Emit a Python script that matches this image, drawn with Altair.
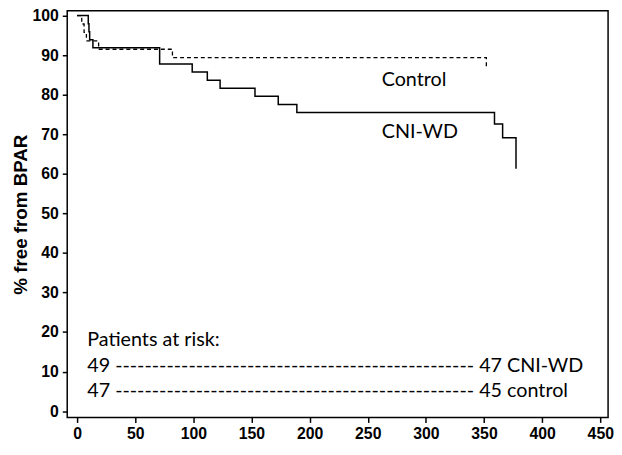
import altair as alt
import pandas as pd

# Kaplan-Meier style curves
cni_time = [0, 9.6, 10.2, 10.8, 13.6, 71, 99, 112, 123, 153, 173, 189, 359, 366, 377.5]
cni_surv = [100, 97.96, 95.92, 93.88, 91.84, 87.76, 85.71, 83.67, 81.63, 79.59, 77.55, 75.51, 72.6, 69.1, 61.3]
ctl_time = [0, 4, 6, 8, 18.5, 82, 352]
ctl_surv = [100, 97.87, 95.74, 93.62, 91.49, 89.36, 87.2]

# annotations
ann_text = ["Control", "CNI-WD", "Patients at risk:",
            "49 " + "-" * 49 + " 47 CNI-WD",
            "47 " + "-" * 49 + " 45 control"]
ann_x = [262, 262, 8.7, 8.7, 8.7]
ann_y = [82.3, 69.1, 16.5, 10.0, 3.5]

x_ticks = list(range(0, 451, 50))
y_ticks = list(range(0, 101, 10))

X_DOM = [-8.5, 456.7]
Y_DOM = [-1.6, 101.2]

cni = pd.DataFrame({"t": cni_time, "s": cni_surv})
ctl = pd.DataFrame({"t": ctl_time, "s": ctl_surv})
ann = pd.DataFrame({"x": ann_x, "y": ann_y, "text": ann_text})

xenc = alt.X("t:Q", scale=alt.Scale(domain=X_DOM, nice=False, zero=False),
             axis=alt.Axis(values=x_ticks, title=None))
yenc = alt.Y("s:Q", scale=alt.Scale(domain=Y_DOM, nice=False, zero=False),
             axis=alt.Axis(values=y_ticks, title="% free from BPAR"))

solid = alt.Chart(cni).mark_line(interpolate="step-after", color="black", strokeWidth=1.5).encode(
    x=xenc, y=yenc, order="t:Q")
dashed = alt.Chart(ctl).mark_line(interpolate="step-after", color="black", strokeWidth=1.3,
                                  strokeDash=[4, 3]).encode(x=xenc, y=yenc, order="t:Q")
texts = alt.Chart(ann).mark_text(align="left", baseline="alphabetic", font="Lato",
                                 fontSize=20, color="black").encode(
    x=alt.X("x:Q", scale=alt.Scale(domain=X_DOM, nice=False, zero=False)),
    y=alt.Y("y:Q", scale=alt.Scale(domain=Y_DOM, nice=False, zero=False)),
    text="text:N")

chart = alt.layer(solid, dashed, texts).properties(
    width=548, height=412, autosize="none",
    padding={"left": 60, "top": 0, "right": 6, "bottom": 24},
    background="white",
).configure_view(stroke="black", strokeWidth=1.5).configure_axis(
    domain=False, grid=False, ticks=True, tickColor="black", tickWidth=1.5, tickSize=5,
    labelFont="Liberation Sans", labelFontWeight="bold", labelFontSize=16, labelColor="black",
    titleFont="Liberation Sans", titleFontWeight="bold", titleFontSize=19, titleColor="black",
).configure_axisY(labelPadding=4, titlePadding=2).configure_axisX(labelPadding=3)

chart.save("out.html", embed_options={"renderer": "svg", "actions": False})
